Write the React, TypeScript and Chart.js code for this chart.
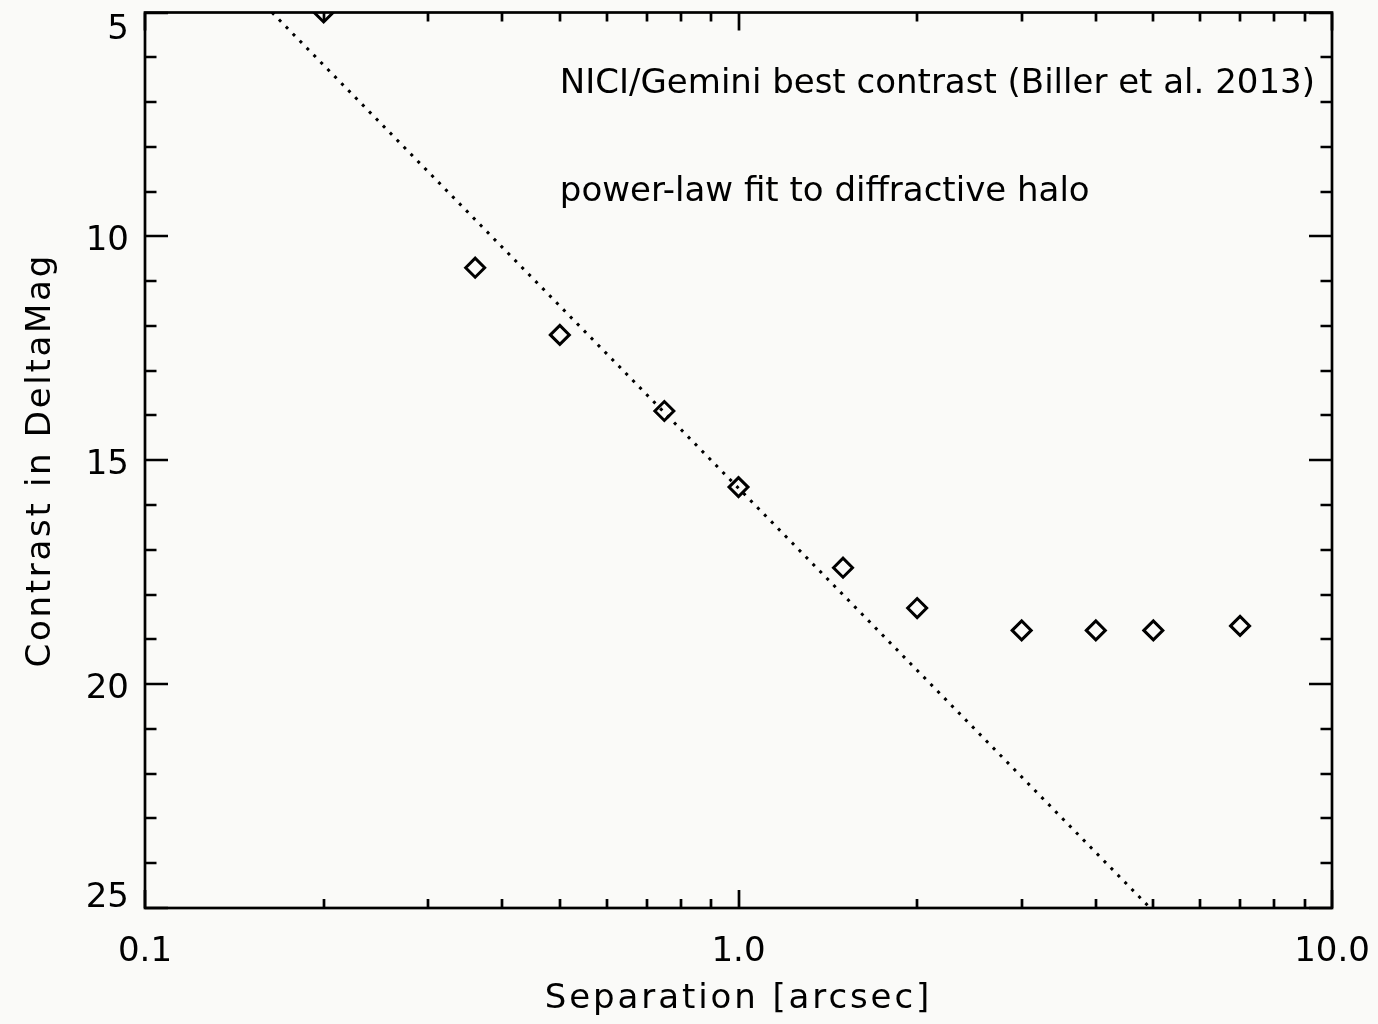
import React, { useEffect, useRef } from "react";
import { Chart, registerables } from "chart.js";

Chart.register(...registerables);

// Measured contrast curve (separation in arcsec, contrast in delta-magnitudes)
const separations = [0.2, 0.36, 0.5, 0.75, 1.0, 1.5, 2.0, 3.0, 4.0, 5.0, 7.0];
const contrasts = [5.0, 10.7, 12.2, 13.9, 15.6, 17.4, 18.3, 18.8, 18.8, 18.8, 18.7];

// Power-law fit to the diffractive halo (straight in mag vs log separation)
const fitSeparations = [0.1637, 4.94];
const fitContrasts = [5, 25];

// Axis ticks
const xTickValues = [
  0.1, 0.2, 0.3, 0.4, 0.5, 0.6, 0.7, 0.8, 0.9,
  1, 2, 3, 4, 5, 6, 7, 8, 9, 10,
];
const xMajorTicks = [0.1, 1, 10];
const xMajorLabels = ["0.1", "1.0", "10.0"];
const yMajorTicks = [5, 10, 15, 20, 25];
const yMajorLabels = ["5", "10", "15", "20", "25"];

const annotationLines = [
  "NICI/Gemini best contrast (Biller et al. 2013)",
  "power-law fit to diffractive halo",
];

const xTitle = "Separation [arcsec]";
const yTitle = "Contrast in DeltaMag";

const BG = "#fafaf8";
const INK = "#000000";
const FONT = "'DejaVu Sans', sans-serif";

const isMajorX = (v: number) => xMajorTicks.some((m) => Math.abs(m - v) < 1e-9);

const framePlugin = {
  id: "idlFrame",
  beforeDraw(chart: any) {
    const { ctx, width, height } = chart;
    ctx.save();
    ctx.fillStyle = BG;
    ctx.fillRect(0, 0, width, height);
    ctx.restore();
  },
  afterDatasetsDraw(chart: any) {
    const { ctx, chartArea } = chart;
    const { left, right, top, bottom } = chartArea;
    const xs = chart.scales.x;
    const ys = chart.scales.y;
    ctx.save();
    ctx.strokeStyle = INK;
    ctx.lineWidth = 2.7;
    ctx.lineCap = "butt";

    // box
    ctx.strokeRect(left, top, right - left, bottom - top);

    // x ticks, bottom and top, pointing inwards
    ctx.beginPath();
    for (const t of xs.ticks) {
      const px = Math.round(xs.getPixelForValue(t.value));
      const len = isMajorX(t.value) ? 18 : 9;
      ctx.moveTo(px, bottom);
      ctx.lineTo(px, bottom - len);
      ctx.moveTo(px, top);
      ctx.lineTo(px, top + len);
    }
    // y ticks, left and right
    for (const t of ys.ticks) {
      const py = Math.round(ys.getPixelForValue(t.value));
      const len = yMajorTicks.includes(t.value) ? 23 : 11.5;
      ctx.moveTo(left, py);
      ctx.lineTo(left + len, py);
      ctx.moveTo(right, py);
      ctx.lineTo(right - len, py);
    }
    ctx.stroke();

    // y tick labels, kept inside the vertical extent of the plot
    ctx.fillStyle = INK;
    ctx.font = `34px ${FONT}`;
    ctx.textAlign = "right";
    ctx.textBaseline = "alphabetic";
    const cap = 25;
    yMajorTicks.forEach((v, i) => {
      const py = ys.getPixelForValue(v);
      const c = Math.min(Math.max(py + 1, top + cap / 2 + 1), bottom - cap / 2 - 1);
      ctx.fillText(yMajorLabels[i], left - 16, c + cap / 2);
    });

    // axis titles
    ctx.font = `34px ${FONT}`;
    (ctx as any).letterSpacing = "2.9px";
    ctx.textAlign = "center";
    ctx.fillText(xTitle, (left + right) / 2, 1008);
    ctx.save();
    (ctx as any).letterSpacing = "2.7px";
    ctx.translate(50, (top + bottom) / 2);
    ctx.rotate(-Math.PI / 2);
    ctx.fillText(yTitle, 0, 0);
    ctx.restore();
    (ctx as any).letterSpacing = "0px";

    // annotation text
    ctx.font = `34px ${FONT}`;
    ctx.textAlign = "left";
    const ax = xs.getPixelForValue(0.5);
    ctx.fillText(annotationLines[0], ax, ys.getPixelForValue(6.8));
    ctx.fillText(annotationLines[1], ax, ys.getPixelForValue(9.2));
    ctx.restore();
  },
};

export default function App() {
  const ref = useRef<HTMLCanvasElement | null>(null);

  useEffect(() => {
    document.body.style.margin = "0";
    document.body.style.background = BG;
    const canvas = ref.current;
    if (!canvas) return;

    const chart = new Chart(canvas, {
      type: "scatter",
      data: {
        datasets: [
          {
            type: "line",
            label: "power-law fit",
            data: fitSeparations.map((x, i) => ({ x, y: fitContrasts[i] })),
            borderColor: INK,
            borderWidth: 3,
            borderDash: [3, 6.9],
            pointRadius: 0,
            fill: false,
            clip: 0,
          } as any,
          {
            type: "scatter",
            label: "NICI/Gemini best contrast",
            data: separations.map((x, i) => ({ x, y: contrasts[i] })),
            pointStyle: "rectRot",
            pointRadius: 9.5,
            pointBorderWidth: 3,
            pointBorderColor: INK,
            pointBackgroundColor: "rgba(0,0,0,0)",
            borderColor: INK,
            backgroundColor: "rgba(0,0,0,0)",
            clip: 0,
          } as any,
        ],
      },
      options: {
        responsive: false,
        animation: false,
        devicePixelRatio: 1,
        layout: { padding: { top: 12, right: 46, left: 0, bottom: 0 } },
        plugins: {
          legend: { display: false },
          tooltip: { enabled: false },
        },
        scales: {
          x: {
            type: "logarithmic",
            position: "bottom",
            min: 0.1,
            max: 10,
            afterBuildTicks: (scale: any) => {
              scale.ticks = xTickValues.map((value) => ({ value }));
            },
            afterFit: (scale: any) => {
              scale.height = 116;
              scale.paddingLeft = 0;
              scale.paddingRight = 0;
            },
            grid: { display: false, drawTicks: false },
            border: { display: false },
            ticks: {
              autoSkip: false,
              maxRotation: 0,
              minRotation: 0,
              padding: 24,
              color: INK,
              font: { family: FONT, size: 34 },
              callback: (value: any) => {
                const i = xMajorTicks.findIndex((m) => Math.abs(m - Number(value)) < 1e-9);
                return i >= 0 ? xMajorLabels[i] : "";
              },
            },
          },
          y: {
            type: "linear",
            reverse: true,
            min: 5,
            max: 25,
            afterFit: (scale: any) => {
              scale.width = 145;
              scale.paddingTop = 0;
              scale.paddingBottom = 0;
            },
            grid: { display: false, drawTicks: false },
            border: { display: false },
            ticks: { stepSize: 1, display: false },
          },
        },
      },
      plugins: [framePlugin],
    });

    return () => chart.destroy();
  }, []);

  return (
    <canvas
      ref={ref}
      width={1378}
      height={1024}
      style={{ display: "block", width: 1378, height: 1024 }}
    />
  );
}
